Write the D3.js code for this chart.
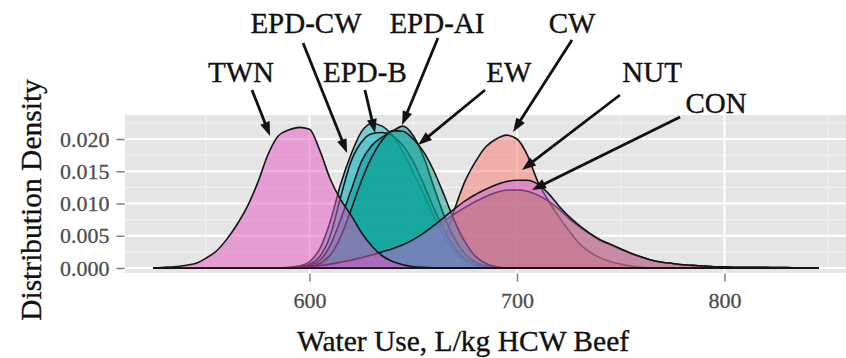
<!DOCTYPE html>
<html><head><meta charset="utf-8">
<script src="https://cdn.jsdelivr.net/npm/d3@7"></script>
<style>body{margin:0;background:#fff} svg{display:block}</style>
</head><body>
<script>
// x grid: water use (L/kg HCW beef), step 5 from 525 to 845
const waterUse = d3.range(525, 850, 5);

// density values (65 points each)
const densCW = [
 0,0,0,0,0,0,0,0,0,0,
 0,0,0,0,0,0,0,0,0,0,
 0,0,0,0,.0001,.0003,.0008,.0020,.0045,.0092,
 .0135,.0165,.0188,.0200,.0206,.0200,.0175,.0134,.0105,.0080,
 .0058,.0038,.0025,.0016,.0010,.0006,.0003,.0001,0,0,
 0,0,0,0,0,0,0,0,0,0,
 0,0,0,0,0];
const densCON = [
 0,0,0,0,0,0,0,0,0,0,
 0,0,0,0,.0001,.0002,.0003,.0005,.0008,.0011,
 .0015,.0019,.0024,.0029,.0035,.0042,.0051,.0062,.0073,.0084,
 .0094,.0103,.0111,.0117,.0121,.0121,.0119,.0113,.0104,.0092,
 .0077,.0064,.0053,.0043,.0036,.0029,.0022,.0017,.0012,.0009,
 .0007,.0005,.0004,.0003,.0002,.0002,.0001,.0001,.0001,.0001,
 .0001,.0001,0,0,0];
const densEPDCW = [
 0,0,0,0,0,0,0,0,0,0,
 0,0,0,.0001,.0003,.0010,.0030,.0072,.0130,.0176,
 .0211,.0224,.0220,.0205,.0180,.0148,.0115,.0080,.0048,.0025,
 .0011,.0004,.0001,0,0,0,0,0,0,0,
 0,0,0,0,0,0,0,0,0,0,
 0,0,0,0,0,0,0,0,0,0,
 0,0,0,0,0];
const densEPDB = [
 0,0,0,0,0,0,0,0,0,0,
 0,0,0,0,.0002,.0006,.0018,.0050,.0110,.0165,
 .0195,.0208,.0210,.0205,.0190,.0165,.0130,.0092,.0058,.0031,
 .0014,.0005,.0001,0,0,0,0,0,0,0,
 0,0,0,0,0,0,0,0,0,0,
 0,0,0,0,0,0,0,0,0,0,
 0,0,0,0,0];
const densEPDAI = [
 0,0,0,0,0,0,0,0,0,0,
 0,0,0,0,.0001,.0004,.0012,.0035,.0075,.0120,
 .0165,.0190,.0203,.0212,.0220,.0205,.0172,.0125,.0080,.0045,
 .0022,.0009,.0003,.0001,0,0,0,0,0,0,
 0,0,0,0,0,0,0,0,0,0,
 0,0,0,0,0,0,0,0,0,0,
 0,0,0,0,0];
const densEW = [
 0,0,0,0,0,0,0,0,0,0,
 0,0,0,0,0,.0002,.0007,.0020,.0048,.0090,
 .0135,.0172,.0198,.0213,.0212,.0200,.0180,.0150,.0112,.0072,
 .0040,.0018,.0007,.0002,0,0,0,0,0,0,
 0,0,0,0,0,0,0,0,0,0,
 0,0,0,0,0,0,0,0,0,0,
 0,0,0,0,0];
const densNUT = [
 0,0,0,0,0,0,0,0,0,0,
 0,0,0,0,.0001,.0002,.0004,.0006,.0009,.0012,
 .0016,.0020,.0025,.0030,.0036,.0044,.0054,.0066,.0079,.0092,
 .0104,.0114,.0122,.0129,.0134,.0136,.0136,.0130,.0116,.0097,
 .0080,.0066,.0054,.0044,.0037,.0030,.0023,.0017,.0012,.0009,
 .0007,.0005,.0004,.0003,.0002,.0002,.0001,.0001,.0001,.0001,
 0,0,0,0,0];
const densTWN = [
 0,.0001,.0002,.0004,.0007,.0015,.0026,.0044,.0067,.0095,
 .0132,.0176,.0205,.0214,.0218,.0215,.0182,.0138,.0106,.0082,
 .0055,.0034,.0019,.0010,.0005,.0002,.0001,0,0,0,
 0,0,0,0,0,0,0,0,0,0,
 0,0,0,0,0,0,0,0,0,0,
 0,0,0,0,0,0,0,0,0,0,
 0,0,0,0,0];

// drawing order and fills
const groups = ["CW","CON","EPD-CW","EPD-B","EPD-AI","EW","NUT","TWN"];
const groupValues = [densCW, densCON, densEPDCW, densEPDB, densEPDAI, densEW, densNUT, densTWN];
const groupFills = ["#F8766D","#A87400","#05B9BE","#3CBEC4","#0096A0","#04A08C","#C868D8","#E454C0"];

// annotations (data units): label position and arrow start / end
const labelText = ["TWN","EPD-CW","EPD-B","EPD-AI","EW","CW","NUT","CON"];
const labelX =    [567.0, 598.3, 626.7, 661.4, 696.1, 726.5, 765.1, 795.9];
const labelY =    [0.02884, 0.03643, 0.02884, 0.03643, 0.02884, 0.03643, 0.02884, 0.02403];
const arrowX0 =   [572.3, 596.9, 626.7, 661.9, 684.6, 726.5, 749.6, 778.6];
const arrowY0 =   [0.0276, 0.03488, 0.0276, 0.03566, 0.0276, 0.03535, 0.02682, 0.02341];
const arrowX1 =   [581.0, 618.1, 631.6, 644.6, 652.3, 698.1, 702.4, 707.2];
const arrowY1 =   [0.02047, 0.01783, 0.02093, 0.02217, 0.01907, 0.02109, 0.01519, 0.01209];

const yTicks = [0, 0.005, 0.010, 0.015, 0.020];
const yMinor = [0.0025, 0.0075, 0.0125, 0.0175, 0.0225];
const xTicks = [600, 700, 800];
const xMinor = [550, 650, 750, 850];

const W = 846, H = 358;
const x = d3.scaleLinear().domain([600, 800]).range([309.5, 724.5]);
const y = d3.scaleLinear().domain([0, 0.02]).range([268, 139]);
const xLim = [511.1, 861.5], yLim = [-0.00078, 0.02372];

const svg = d3.select("body").append("svg").attr("width", W).attr("height", H);
const font = "'Liberation Serif', 'Times New Roman', serif";

const px0 = x(xLim[0]), px1 = x(xLim[1]), py0 = y(yLim[1]), py1 = y(yLim[0]);
svg.append("rect").attr("x", px0).attr("y", py0).attr("width", px1 - px0).attr("height", py1 - py0).attr("fill", "#E5E5E5");

svg.append("defs").append("clipPath").attr("id", "clip")
  .append("rect").attr("x", px0).attr("y", py0).attr("width", px1 - px0).attr("height", py1 - py0);

const grid = svg.append("g");
grid.selectAll(".ym").data(yMinor).join("line")
  .attr("x1", px0).attr("x2", px1).attr("y1", d => y(d)).attr("y2", d => y(d))
  .attr("stroke", "#F2F2F2").attr("stroke-width", 1);
grid.selectAll(".xm").data(xMinor).join("line")
  .attr("y1", py0).attr("y2", py1).attr("x1", d => x(d)).attr("x2", d => x(d))
  .attr("stroke", "#F2F2F2").attr("stroke-width", 1);
grid.selectAll(".yM").data(yTicks).join("line")
  .attr("x1", px0).attr("x2", px1).attr("y1", d => y(d)).attr("y2", d => y(d))
  .attr("stroke", "#FFFFFF").attr("stroke-width", 2);
grid.selectAll(".xM").data(xTicks).join("line")
  .attr("y1", py0).attr("y2", py1).attr("x1", d => x(d)).attr("x2", d => x(d))
  .attr("stroke", "#FFFFFF").attr("stroke-width", 2);

const area = d3.area()
  .x((d, i) => x(waterUse[i]))
  .y0(y(0))
  .y1(d => y(d))
  .curve(d3.curveMonotoneX);

const dens = svg.append("g").attr("clip-path", "url(#clip)");
groups.forEach((g, k) => {
  dens.append("path")
    .datum(groupValues[k])
    .attr("d", d => area(d) + "Z")
    .attr("fill", groupFills[k]).attr("fill-opacity", 0.5)
    .attr("stroke", "#151515").attr("stroke-width", 1.6).attr("stroke-linejoin", "round");
});

// axes
const yAxis = svg.append("g").attr("transform", `translate(${px0 - 0.5},0)`)
  .call(d3.axisLeft(y).tickValues(yTicks).tickFormat(d3.format(".3f")).tickSize(8).tickPadding(7));
const xAxis = svg.append("g").attr("transform", `translate(0,${py1 + 0.5})`)
  .call(d3.axisBottom(x).tickValues(xTicks).tickFormat(d3.format("d")).tickSize(8).tickPadding(11));
[yAxis, xAxis].forEach(a => {
  a.select(".domain").remove();
  a.selectAll(".tick line").attr("stroke", "#7F7F7F").attr("stroke-width", 1.5);
  a.selectAll(".tick text").attr("fill", "#4D4D4D").attr("font-family", font).attr("font-size", 22)
    .attr("stroke", "#4D4D4D").attr("stroke-width", 0.3);
});

svg.append("text").attr("x", 463).attr("y", 351).attr("text-anchor", "middle")
  .attr("font-family", font).attr("font-size", 29.5).attr("fill", "#111")
  .attr("stroke", "#111").attr("stroke-width", 0.35)
  .text("Water Use, L/kg HCW Beef");
svg.append("text").attr("transform", "translate(41,200) rotate(-90)").attr("text-anchor", "middle")
  .attr("font-family", font).attr("font-size", 29.5).attr("fill", "#111")
  .attr("stroke", "#111").attr("stroke-width", 0.35)
  .text("Distribution Density");

// annotations
const ann = svg.append("g");
labelText.forEach((t, i) => {
  ann.append("text").attr("x", x(labelX[i])).attr("y", y(labelY[i]))
    .attr("text-anchor", "middle").attr("font-family", font).attr("font-size", 29)
    .attr("fill", "#111").attr("stroke", "#111").attr("stroke-width", 0.35).text(t);
  const sx = x(arrowX0[i]), sy = y(arrowY0[i]), ex = x(arrowX1[i]), ey = y(arrowY1[i]);
  const dx = ex - sx, dy = ey - sy, L = Math.hypot(dx, dy), ux = dx / L, uy = dy / L;
  const hl = 14, hw = 5;
  const bx = ex - ux * hl, by = ey - uy * hl;
  ann.append("line").attr("x1", sx).attr("y1", sy).attr("x2", bx + ux * 2).attr("y2", by + uy * 2)
    .attr("stroke", "#111").attr("stroke-width", 2.8);
  ann.append("path")
    .attr("d", `M${ex},${ey}L${bx - uy * hw},${by + ux * hw}L${bx + uy * hw},${by - ux * hw}Z`)
    .attr("fill", "#111");
});
</script>
</body></html>
